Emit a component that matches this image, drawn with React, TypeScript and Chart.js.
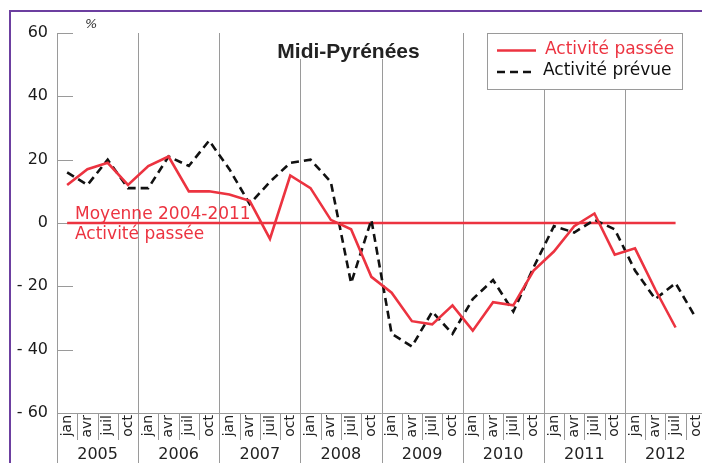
import React, { useEffect, useRef } from "react";
import { Chart, registerables } from "chart.js";

Chart.register(...registerables);

const years = ["2005", "2006", "2007", "2008", "2009", "2010", "2011", "2012"];
const months = ["jan", "avr", "juil", "oct"];

// Activité passée (jan 2005 -> juil 2012)
const activitePassee = [
  12, 17, 19, 12,
  18, 21, 10, 10,
  9, 7, -5, 15,
  11, 1, -2, -17,
  -22, -31, -32, -26,
  -34, -25, -26, -15,
  -9, -1, 3, -10,
  -8, -21, -33,
];

// Activité prévue (jan 2005 -> oct 2012)
const activitePrevue = [
  16, 12, 20, 11,
  11, 21, 18, 26,
  17, 6, 13, 19,
  20, 13, -19, 1,
  -35, -39, -28, -35,
  -24, -18, -28, -14,
  -1, -3, 1, -2,
  -15, -24, -19, -30,
];

// Moyenne 2004-2011 de l'activité passée
const moyenneValue = 0;

const yTicks = [60, 40, 20, 0, -20, -40, -60];
const yTickLabels = ["60", "40", "20", "0", "- 20", "- 40", "- 60"];

const RED = "#ec3340";
const BLACK = "#111111";
const GRAY = "#9a9a9a";
const FONT = "'DejaVu Sans', Verdana, sans-serif";

const categoryLabels: string[] = [];
years.forEach((yr) => months.forEach((m) => categoryLabels.push(m + " " + yr)));

const decorPlugin = {
  id: "decor",
  beforeDatasetsDraw(chart: any) {
    const { ctx, chartArea: a, scales } = chart;
    const x = scales.x;
    const y = scales.y;
    const step = x.getPixelForValue(1) - x.getPixelForValue(0);
    const boundary = (i: number) => x.getPixelForValue(i) - step / 2;
    const H = chart.height;
    ctx.save();
    ctx.strokeStyle = GRAY;
    ctx.lineWidth = 1;
    const crisp = (v: number) => Math.round(v) + 0.5;

    // vertical year lines inside plot
    for (let k = 1; k < years.length; k++) {
      const px = crisp(boundary(k * months.length));
      ctx.beginPath();
      ctx.moveTo(px, a.top);
      ctx.lineTo(px, a.bottom);
      ctx.stroke();
    }
    // y axis line
    const ax = crisp(a.left);
    ctx.beginPath();
    ctx.moveTo(ax, a.top);
    ctx.lineTo(ax, H);
    ctx.stroke();
    // x axis line
    const by = crisp(a.bottom);
    ctx.beginPath();
    ctx.moveTo(a.left, by);
    ctx.lineTo(a.right, by);
    ctx.stroke();
    // inner y ticks
    yTicks.forEach((v) => {
      const py = crisp(y.getPixelForValue(v));
      ctx.beginPath();
      ctx.moveTo(a.left, py);
      ctx.lineTo(a.left + 16, py);
      ctx.stroke();
    });

    // separators in label area
    const n = categoryLabels.length;
    for (let i = 0; i <= n; i++) {
      const px = crisp(boundary(i));
      ctx.beginPath();
      ctx.moveTo(px, a.bottom);
      ctx.lineTo(px, i % months.length === 0 ? H : a.bottom + 27);
      ctx.stroke();
    }

    // month labels (rotated)
    ctx.fillStyle = "#222";
    ctx.font = "14px " + FONT;
    for (let i = 0; i < n; i++) {
      const px = x.getPixelForValue(i);
      ctx.save();
      ctx.translate(px, a.bottom + 2);
      ctx.rotate(-Math.PI / 2);
      ctx.textAlign = "right";
      ctx.textBaseline = "middle";
      ctx.fillText(months[i % months.length], 0, 0);
      ctx.restore();
    }
    // year labels
    ctx.font = "16px " + FONT;
    ctx.textAlign = "center";
    ctx.textBaseline = "alphabetic";
    years.forEach((yr, k) => {
      const cx = (boundary(k * 4) + boundary(k * 4 + 4)) / 2;
      ctx.fillText(yr, cx, 459);
    });

    // title mask + title
    ctx.fillStyle = "#fff";
    ctx.fillRect(262, a.top - 1, 170, 60 - a.top);
    ctx.fillStyle = "#222";
    ctx.font = "bold 21px 'Liberation Sans', Arial, sans-serif";
    ctx.textAlign = "center";
    ctx.fillText("Midi-Pyrénées", 348.5, 58);

    // % unit
    ctx.font = "italic 13px " + FONT;
    ctx.textAlign = "left";
    ctx.fillStyle = "#333";
    ctx.fillText("%", 85, 28);

    // mean line label
    ctx.fillStyle = RED;
    ctx.font = "17px " + FONT;
    ctx.fillText("Moyenne 2004-2011", 75, 219);
    ctx.fillText("Activité passée", 75, 239);

    // legend box
    ctx.fillStyle = "#fff";
    ctx.fillRect(487.5, 33.5, 195, 56);
    ctx.strokeStyle = GRAY;
    ctx.lineWidth = 1;
    ctx.strokeRect(487.5, 33.5, 195, 56);
    const ds = chart.data.datasets;
    const rows = [
      { d: ds[0], y: 50.5, tx: 545, ty: 50 },
      { d: ds[1], y: 72, tx: 543, ty: 71 },
    ];
    rows.forEach((r) => {
      ctx.save();
      ctx.strokeStyle = r.d.borderColor;
      ctx.lineWidth = 2.5;
      ctx.setLineDash(r.d.borderDash || []);
      ctx.beginPath();
      ctx.moveTo(497, r.y);
      ctx.lineTo(536, r.y);
      ctx.stroke();
      ctx.restore();
      ctx.fillStyle = r.d.borderColor;
      ctx.font = "17px " + FONT;
      ctx.textAlign = "left";
      ctx.textBaseline = "middle";
      ctx.fillText(r.d.label, r.tx, r.ty);
    });
    ctx.restore();
  },
};

export default function App() {
  const ref = useRef<HTMLCanvasElement>(null);
  useEffect(() => {
    if (!ref.current) return;
    const chart = new Chart(ref.current, {
      type: "line",
      data: {
        labels: categoryLabels,
        datasets: [
          {
            label: "Activité passée",
            data: activitePassee,
            borderColor: RED,
            backgroundColor: RED,
            borderWidth: 2.6,
            pointRadius: 0,
            tension: 0,
          },
          {
            label: "Activité prévue",
            data: activitePrevue,
            borderColor: BLACK,
            backgroundColor: BLACK,
            borderWidth: 2.6,
            borderDash: [8, 5],
            pointRadius: 0,
            tension: 0,
          },
          {
            label: "Moyenne 2004-2011",
            data: [
              { x: categoryLabels[0], y: moyenneValue },
              { x: categoryLabels[activitePassee.length - 1], y: moyenneValue },
            ] as any,
            borderColor: RED,
            backgroundColor: RED,
            borderWidth: 2.6,
            pointRadius: 0,
          },
        ],
      },
      options: {
        animation: false,
        responsive: false,
        maintainAspectRatio: false,
        layout: { padding: { top: 33, right: 14, left: 0, bottom: 0 } },
        plugins: { legend: { display: false }, tooltip: { enabled: false } },
        scales: {
          x: {
            type: "category",
            offset: true,
            grid: { display: false, drawTicks: false },
            border: { display: false },
            ticks: { display: false },
            afterFit: (s: any) => {
              s.height = 50;
            },
          },
          y: {
            min: -60,
            max: 60,
            grid: { display: false, drawTicks: false },
            border: { display: false },
            ticks: {
              stepSize: 20,
              padding: 9,
              color: "#1a1a1a",
              font: { size: 16, family: FONT },
              callback: (v: any) => {
                const idx = yTicks.indexOf(Number(v));
                return idx >= 0 ? yTickLabels[idx] : "";
              },
            },
            afterFit: (s: any) => {
              s.width = 57;
            },
          },
        },
      },
      plugins: [decorPlugin],
    });
    return () => chart.destroy();
  }, []);

  return (
    <div>
      <div
        style={{
          position: "fixed",
          left: 9,
          top: 10,
          width: 900,
          height: 900,
          border: "2px solid #6c3fa0",
          boxSizing: "border-box",
        }}
      />
      <canvas
        ref={ref}
        width={720}
        height={463}
        style={{ position: "fixed", left: 0, top: 0, width: 720, height: 463 }}
      />
    </div>
  );
}
